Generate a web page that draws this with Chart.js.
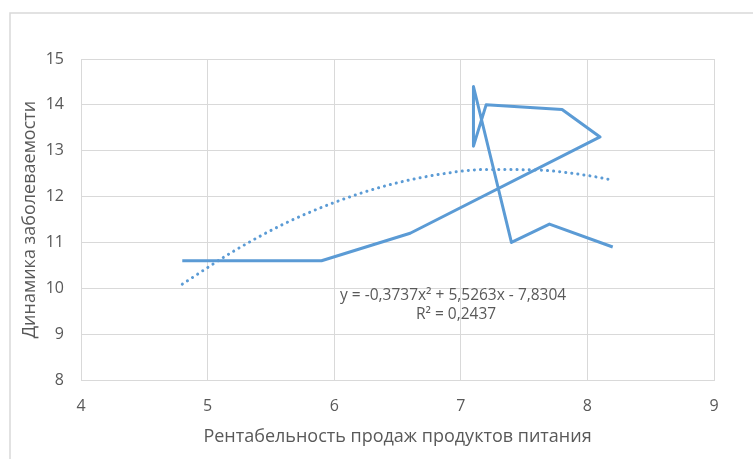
<!DOCTYPE html>
<html>
<head>
<meta charset="utf-8">
<script src="https://cdn.jsdelivr.net/npm/chart.js@4"></script>
<style>
  html, body { margin: 0; padding: 0; background: #fff; }
  #wrap { width: 753px; height: 459px; position: relative; }
</style>
</head>
<body>
<div id="wrap"><canvas id="myChart" width="753" height="459"></canvas></div>
<script>
'use strict';

// data
let xValues = [4.8, 5.9, 6.6, 8.1, 7.8, 7.2, 7.1, 7.1, 7.4, 7.7, 8.2];
let yValues = [10.6, 10.6, 11.2, 13.3, 13.9, 14.0, 13.1, 14.4, 11.0, 11.4, 10.9];
let trendX = [4.8, 5.2, 5.6, 6.0, 6.4, 6.8, 7.2, 7.6, 8.0, 8.2];
let trendY = [10.09, 10.80, 11.40, 11.87, 12.23, 12.47, 12.59, 12.58, 12.46, 12.36];
let xTicks = [4, 5, 6, 7, 8, 9];
let yTicks = [8, 9, 10, 11, 12, 13, 14, 15];
let equationText = 'y = -0,3737x² + 5,5263x - 7,8304';
let r2Text = 'R² = 0,2437';

let blue = '#5b9bd5';
let gray = '#595959';
let gridColor = '#d9d9d9';
let fontName = '"Open Sans", "Liberation Sans", sans-serif';

let points = [];
for (let i = 0; i < xValues.length; i++) {
  points.push({ x: xValues[i], y: yValues[i] });
}
let trendPoints = [];
for (let i = 0; i < trendX.length; i++) {
  trendPoints.push({ x: trendX[i], y: trendY[i] });
}

// frame and equation text
let extrasPlugin = {
  id: 'extras',
  afterDraw(chart) {
    let ctx = chart.ctx;
    ctx.save();
    ctx.strokeStyle = gridColor;
    ctx.lineWidth = 1.5;
    ctx.beginPath();
    ctx.moveTo(10, 459);
    ctx.lineTo(10, 13);
    ctx.lineTo(753, 13);
    ctx.stroke();

    ctx.fillStyle = gray;
    ctx.font = '15.5px ' + fontName;
    ctx.textBaseline = 'alphabetic';
    ctx.textAlign = 'left';
    ctx.fillText(equationText, 340, 300);
    ctx.fillText(r2Text, 416, 319);
    ctx.restore();
  }
};

let ctx = document.getElementById('myChart').getContext('2d');
let myChart = new Chart(ctx, {
  type: 'scatter',
  data: {
    datasets: [{
      label: 'data',
      data: points,
      showLine: true,
      borderColor: blue,
      borderWidth: 3,
      borderJoinStyle: 'round',
      pointRadius: 0,
      tension: 0
    },
    {
      label: 'trend',
      data: trendPoints,
      showLine: true,
      borderColor: blue,
      borderWidth: 3,
      borderDash: [0.1, 6],
      borderCapStyle: 'round',
      pointRadius: 0,
      cubicInterpolationMode: 'monotone'
    }]
  },
  options: {
    responsive: false,
    animation: false,
    layout: { padding: { left: 0, top: 59, right: 39, bottom: 0 } },
    plugins: {
      legend: { display: false },
      tooltip: { enabled: false }
    },
    scales: {
      x: {
        type: 'linear',
        min: 4,
        max: 9,
        afterFit(scale) { scale.height = 79; },
        afterBuildTicks(scale) { scale.ticks = xTicks.map(v => ({ value: v })); },
        grid: { color: gridColor, drawTicks: false },
        border: { color: gridColor },
        ticks: { color: gray, padding: 17, font: { size: 16, family: fontName } },
        title: {
          display: true,
          text: 'Рентабельность продаж продуктов питания',
          color: gray,
          padding: { top: 0, bottom: 11 },
          font: { size: 18, family: fontName }
        }
      },
      y: {
        type: 'linear',
        min: 8,
        max: 15,
        afterFit(scale) { scale.width = 81; },
        afterBuildTicks(scale) { scale.ticks = yTicks.map(v => ({ value: v })); },
        grid: { color: gridColor, drawTicks: false },
        border: { color: gridColor },
        ticks: { color: gray, padding: 17, font: { size: 16, family: fontName } },
        title: {
          display: true,
          text: 'Динамика заболеваемости',
          color: gray,
          padding: { top: 19, bottom: 0 },
          font: { size: 18, family: fontName }
        }
      }
    }
  },
  plugins: [extrasPlugin]
});
</script>
</body>
</html>
